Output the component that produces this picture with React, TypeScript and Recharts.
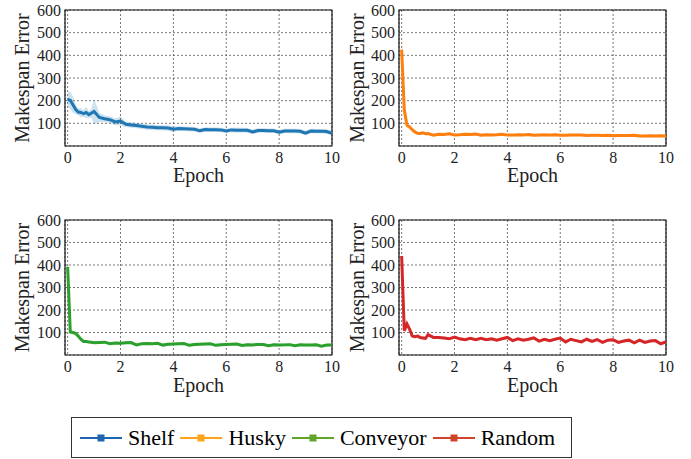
import React from "react";
import { ComposedChart, Line, Area, XAxis, YAxis, CartesianGrid, ReferenceArea } from "recharts";

// epochs: finer steps during the first epoch, then every 0.2
const epochs = [
  0, 0.1, 0.2, 0.3, 0.4, 0.5, 0.6, 0.7, 0.8, 0.9, 1.0,
  1.2, 1.4, 1.6, 1.8, 2.0, 2.2, 2.4, 2.6, 2.8, 3.0, 3.2, 3.4, 3.6, 3.8, 4.0,
  4.2, 4.4, 4.6, 4.8, 5.0, 5.2, 5.4, 5.6, 5.8, 6.0, 6.2, 6.4, 6.6, 6.8, 7.0,
  7.2, 7.4, 7.6, 7.8, 8.0, 8.2, 8.4, 8.6, 8.8, 9.0, 9.2, 9.4, 9.6, 9.8, 10.0,
];

const shelfMean = [
  205, 202, 182, 162, 150, 148, 143, 148, 138, 145, 152,
  126, 120, 116, 106, 110, 96, 93, 90, 87, 84, 83, 81, 80, 79, 74,
  77, 76, 75, 74, 67, 73, 72, 72, 71, 66, 71, 70, 70, 69, 62,
  68, 68, 67, 67, 61, 66, 66, 66, 65, 57, 66, 65, 65, 64, 56,
];
const shelfSpread = [
  30, 40, 35, 20, 15, 20, 15, 25, 15, 20, 55,
  20, 15, 15, 15, 20, 12, 12, 12, 12, 12, 12, 12, 12, 12, 12,
  10, 10, 10, 10, 10, 10, 10, 10, 10, 10, 10, 10, 10, 10, 10,
  10, 10, 10, 10, 10, 10, 10, 10, 10, 10, 10, 10, 10, 10, 10,
];

const huskyMean = [
  425, 160, 92, 84, 72, 62, 56, 55, 58, 54, 55,
  48, 52, 51, 54, 49, 50, 52, 51, 53, 48, 50, 49, 50, 52, 48,
  48, 50, 49, 51, 47, 48, 49, 48, 50, 47, 47, 48, 48, 49, 46,
  47, 47, 46, 47, 45, 46, 46, 46, 47, 44, 44, 45, 44, 45, 44,
];
const huskySpread = [
  110, 30, 10, 8, 6, 6, 6, 6, 6, 6, 6,
  6, 6, 6, 6, 6, 6, 6, 6, 6, 6, 6, 6, 6, 6, 6,
  6, 6, 6, 6, 6, 6, 6, 6, 6, 6, 6, 6, 6, 6, 6,
  6, 6, 6, 6, 6, 6, 6, 6, 6, 6, 6, 6, 6, 6, 6,
];

const conveyorMean = [
  392, 102, 100, 96, 84, 70, 60, 60, 58, 57, 55,
  56, 57, 50, 53, 52, 54, 55, 45, 50, 51, 50, 52, 44, 48, 49,
  50, 51, 43, 47, 48, 49, 50, 43, 46, 47, 48, 49, 42, 46, 45,
  47, 47, 41, 45, 44, 45, 46, 41, 45, 44, 44, 45, 39, 44, 44,
];
const conveyorSpread = [
  15, 10, 8, 8, 6, 6, 6, 6, 6, 6, 6,
  6, 6, 6, 6, 6, 6, 6, 6, 6, 6, 6, 6, 6, 6, 6,
  6, 6, 6, 6, 6, 6, 6, 6, 6, 6, 6, 6, 6, 6, 6,
  6, 6, 6, 6, 6, 6, 6, 6, 6, 6, 6, 6, 6, 6, 6,
];

const randomMean = [
  440, 108, 138, 115, 84, 81, 84, 78, 76, 74, 90,
  78, 78, 76, 72, 80, 72, 68, 74, 68, 74, 68, 72, 66, 72, 78,
  64, 72, 66, 70, 76, 62, 70, 64, 70, 75, 58, 70, 64, 58, 70,
  60, 68, 56, 66, 68, 56, 62, 66, 54, 66, 56, 62, 64, 50, 58,
];
const randomSpread = [
  70, 20, 15, 8, 6, 6, 6, 6, 6, 6, 6,
  6, 6, 6, 6, 6, 6, 6, 6, 6, 6, 6, 6, 6, 6, 6,
  6, 6, 6, 6, 6, 6, 6, 6, 6, 6, 6, 6, 6, 6, 6,
  6, 6, 6, 6, 6, 6, 6, 6, 6, 6, 6, 6, 6, 6, 6,
];

const xTicks = [0, 2, 4, 6, 8, 10];
const yTicks = [100, 200, 300, 400, 500, 600];

const legendItems = [
  { name: "Shelf", color: "#1f66b0" },
  { name: "Husky", color: "#ffa31a" },
  { name: "Conveyor", color: "#5ea52a" },
  { name: "Random", color: "#d0452a" },
];

const FONT = "Liberation Serif, DejaVu Serif, serif";
const TEXT = "#222";

type PanelProps = {
  mean: number[];
  spread: number[];
  color: string;
  left: number;
  top: number;
  width: number;
  yAxisWidth: number;
  labelOffset: number;
  xAxisHeight: number;
};

function Panel({ mean, spread, color, left, top, width, yAxisWidth, labelOffset, xAxisHeight }: PanelProps) {
  const rows = epochs.map((e, i) => ({
    epoch: e,
    mean: mean[i],
    band: [mean[i] - spread[i], mean[i] + spread[i]],
  }));

  return (
    <div style={{ position: "absolute", left, top, fontFamily: FONT }}>
      <ComposedChart
        width={width}
        height={200}
        data={rows}
        margin={{ top: 10, right: width === 340 ? 8 : 9, bottom: 0, left: 0 }}
      >
        <CartesianGrid stroke="#555" strokeDasharray="2 2" strokeWidth={0.8} />
        <XAxis
          dataKey="epoch"
          type="number"
          domain={[-0.1, 10]}
          ticks={xTicks}
          interval={0}
          allowDataOverflow
          height={xAxisHeight}
          tickLine={false}
          tickSize={0}
          tickMargin={6}
          axisLine={false}
          tick={{ fontSize: 16, fill: TEXT, fontFamily: FONT }}
          label={{ value: "Epoch", position: "insideBottom", offset: 18, fontFamily: FONT, style: { fontSize: 20, fill: TEXT, fontFamily: FONT } }}
        />
        <YAxis
          domain={[0, 600]}
          ticks={yTicks}
          interval={0}
          allowDataOverflow
          width={yAxisWidth}
          tickLine={false}
          tickSize={0}
          tickMargin={4}
          axisLine={false}
          tick={{ fontSize: 16, fill: TEXT, fontFamily: FONT }}
          label={{
            value: "Makespan Error",
            angle: -90,
            position: "insideLeft",
            offset: labelOffset,
            fontFamily: FONT,
            style: { textAnchor: "middle", fontSize: 20, fill: TEXT, fontFamily: FONT },
          }}
        />
        <Area
          dataKey="band"
          stroke="none"
          fill={color}
          fillOpacity={0.22}
          isAnimationActive={false}
          activeDot={false}
        />
        <Line
          dataKey="mean"
          stroke={color}
          strokeWidth={3}
          dot={false}
          isAnimationActive={false}
          activeDot={false}
        />
        <ReferenceArea x1={-0.1} x2={10} y1={0} y2={600} fill="none" stroke="#111" strokeWidth={1.2} />
      </ComposedChart>
    </div>
  );
}

function Legend() {
  return (
    <div
      style={{
        position: "absolute",
        left: 71,
        top: 417,
        width: 501,
        height: 41,
        boxSizing: "border-box",
        border: "1px solid #333",
        display: "flex",
        alignItems: "center",
        paddingLeft: 8,
        fontFamily: FONT,
        fontSize: 22,
        color: "#000",
      }}
    >
      {legendItems.map((it) => (
        <div key={it.name} style={{ display: "flex", alignItems: "center", marginRight: 6 }}>
          <svg width={42} height={12}>
            <line x1={0} y1={6} x2={42} y2={6} stroke={it.color} strokeWidth={2} />
            <rect x={17.5} y={2.5} width={7} height={7} fill={it.color} />
          </svg>
          <span style={{ marginLeft: 6 }}>{it.name}</span>
        </div>
      ))}
    </div>
  );
}

export default function App() {
  return (
    <div style={{ position: "absolute", left: 0, top: 0, width: 691, height: 459, background: "#fff" }}>
      <Panel mean={shelfMean} spread={shelfSpread} color="#1f77b4" left={0} top={0} width={340} yAxisWidth={65} labelOffset={22} xAxisHeight={54} />
      <Panel mean={huskyMean} spread={huskySpread} color="#ff7f0e" left={345} top={0} width={330} yAxisWidth={54} labelOffset={12} xAxisHeight={54} />
      <Panel mean={conveyorMean} spread={conveyorSpread} color="#2ca02c" left={0} top={210} width={340} yAxisWidth={65} labelOffset={22} xAxisHeight={55} />
      <Panel mean={randomMean} spread={randomSpread} color="#d62728" left={345} top={210} width={330} yAxisWidth={54} labelOffset={12} xAxisHeight={55} />
      <Legend />
    </div>
  );
}
